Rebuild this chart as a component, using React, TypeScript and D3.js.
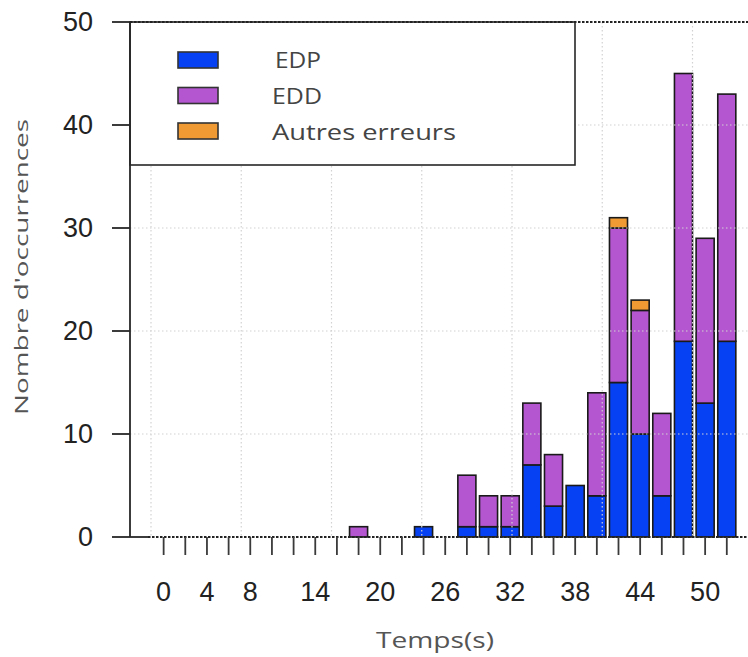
import React from "react";
import * as d3 from "d3";

const categories = [0, 2, 4, 6, 8, 10, 12, 14, 16, 18, 20, 22, 24, 26, 28, 30, 32, 34, 36, 38, 40, 42, 44, 46, 48, 50, 52];
const edp = [0, 0, 0, 0, 0, 0, 0, 0, 0, 0, 0, 0, 1, 0, 1, 1, 1, 7, 3, 5, 4, 15, 10, 4, 19, 13, 19];
const edd = [0, 0, 0, 0, 0, 0, 0, 0, 0, 1, 0, 0, 0, 0, 5, 3, 3, 6, 5, 0, 10, 15, 12, 8, 26, 16, 24];
const autres = [0, 0, 0, 0, 0, 0, 0, 0, 0, 0, 0, 0, 0, 0, 0, 0, 0, 0, 0, 0, 0, 1, 1, 0, 0, 0, 0];
const seriesNames = ["EDP", "EDD", "Autres erreurs"];
const seriesKeys = ["edp", "edd", "autres"];
const seriesColors = ["#0642f4", "#b356cf", "#ef9a32"];
const shownXLabels = [0, 4, 8, 14, 20, 26, 32, 38, 44, 50];
const yTicks = [0, 10, 20, 30, 40, 50];
const xGridUnits = [0, 5, 10, 15, 20, 25, 30];
const yLabel = "Nombre d'occurrences";
const xLabel = "Temps(s)";

export default function App() {
  const W = 748, H = 657;
  // barplot coordinate system (R style): bar centers at 0.7 + 1.2*i
  const x = d3.scaleLinear().domain([0, 33]).range([151, 151 + 33 * 18.05]);
  const y = d3.scaleLinear().domain([0, 50]).range([537, 22]);
  const barW = x(1) - x(0);
  const center = (i: number) => x(0.7 + 1.2 * i);

  const rows = categories.map((c, i) => ({ c, edp: edp[i], edd: edd[i], autres: autres[i] }));
  const stacked = d3.stack<any>().keys(seriesKeys)(rows);

  const axisColor = "#262626";
  const gridColor = "#d2d2d2";
  const legendLens = [46, 50, 184];

  return (
    <div style={{ position: "absolute", left: 0, top: 0 }}>
      <svg width={W} height={H} style={{ display: "block", background: "#fff" }}>
        {/* bars */}
        {stacked.map((s, si) =>
          s.map((d, i) => {
            const h = y(d[0]) - y(d[1]);
            if (h <= 0) return null;
            return (
              <rect
                key={`${si}-${i}`}
                x={center(i) - barW / 2}
                y={y(d[1])}
                width={barW}
                height={h}
                fill={seriesColors[si]}
                stroke="#1a1a1a"
                strokeWidth={1.6}
              />
            );
          })
        )}
        {/* grid */}
        {xGridUnits.map((u) => (
          <line key={`gx${u}`} x1={x(u)} x2={x(u)} y1={y(50)} y2={y(0)} stroke={gridColor} strokeWidth={1.2} strokeDasharray="1.5,2.5" />
        ))}
        {yTicks.filter((t) => t > 0 && t < 50).map((t) => (
          <line key={`gy${t}`} x1={130} x2={W} y1={y(t)} y2={y(t)} stroke={gridColor} strokeWidth={1.2} strokeDasharray="1.5,2.5" />
        ))}
        {/* legend */}
        <rect x={130} y={y(50)} width={445} height={143} fill="#fff" stroke={axisColor} strokeWidth={1.6} />
        {seriesNames.map((n, i) => (
          <g key={n}>
            <rect x={178} y={52 + i * 35.5} width={40} height={16} fill={seriesColors[i]} stroke="#333" strokeWidth={1.6} />
            <text
              x={i === 0 ? 275 : 272}
              y={68 + i * 36}
              fontFamily="Open Sans"
              fontSize={21.5}
              fill="#444"
              textLength={legendLens[i]}
              lengthAdjust="spacingAndGlyphs"
            >
              {n}
            </text>
          </g>
        ))}
        {/* dashed lines at 0 and 50 */}
        <line x1={130} x2={W} y1={y(50)} y2={y(50)} stroke="#222" strokeWidth={1.8} strokeDasharray="2.5,1.5" />
        <line x1={148} x2={W} y1={y(0)} y2={y(0)} stroke="#222" strokeWidth={1.8} strokeDasharray="2.5,1.5" />
        <line x1={130} x2={150} y1={y(0)} y2={y(0)} stroke={axisColor} strokeWidth={1.8} />
        {/* y axis */}
        <line x1={130} x2={130} y1={y(50)} y2={y(0)} stroke={axisColor} strokeWidth={1.8} />
        {yTicks.map((t) => (
          <g key={`yt${t}`}>
            <line x1={112} x2={130} y1={y(t)} y2={y(t)} stroke={axisColor} strokeWidth={1.8} />
            <text x={93} y={y(t)} textAnchor="end" dominantBaseline="central" fontFamily="Liberation Sans" fontSize={27} fill="#222">
              {t}
            </text>
          </g>
        ))}
        {/* x axis ticks */}
        {categories.map((c, i) => (
          <line key={`xt${c}`} x1={center(i)} x2={center(i)} y1={y(0)} y2={555} stroke="#3a3a3a" strokeWidth={1.8} />
        ))}
        {categories.map((c, i) =>
          shownXLabels.includes(c) ? (
            <text key={`xl${c}`} x={center(i)} y={592} textAnchor="middle" dominantBaseline="central" fontFamily="Liberation Sans" fontSize={27} fill="#222">
              {c}
            </text>
          ) : null
        )}
        {/* axis titles */}
        <text x={376} y={648} fontFamily="Open Sans" fontSize={22} fill="#555" textLength={118} lengthAdjust="spacingAndGlyphs">
          {xLabel}
        </text>
        <text
          transform={`translate(28, 415) rotate(-90)`}
          x={0}
          y={0}
          fontFamily="Open Sans"
          fontSize={17.5}
          fill="#555"
          textLength={296}
          lengthAdjust="spacingAndGlyphs"
        >
          {yLabel}
        </text>
      </svg>
    </div>
  );
}
